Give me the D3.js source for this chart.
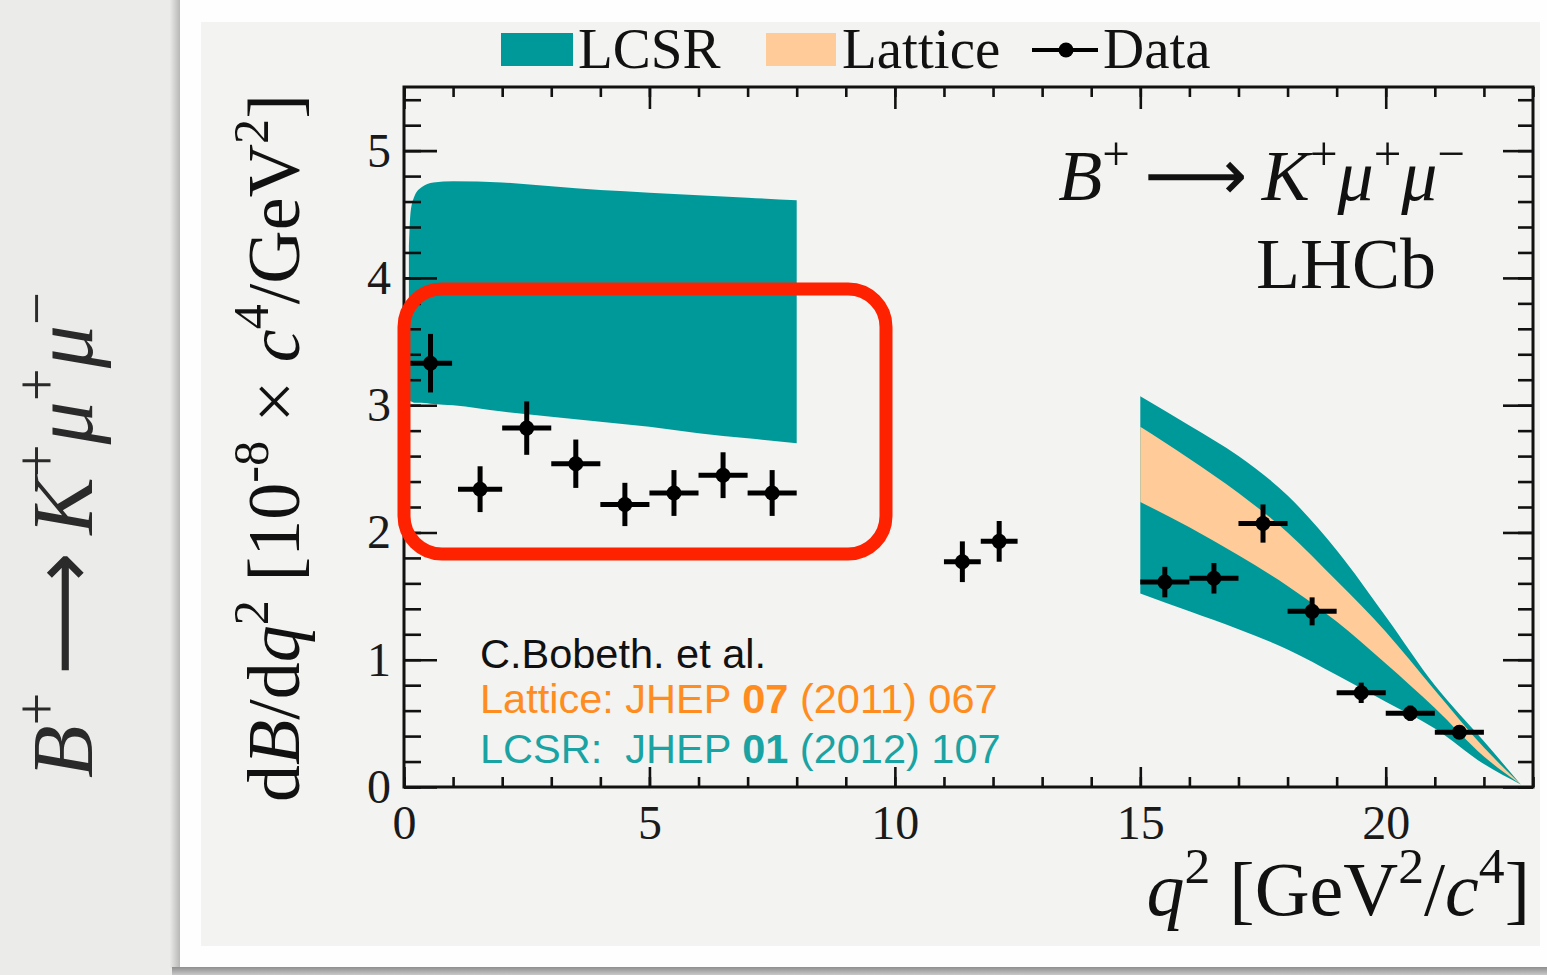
<!DOCTYPE html>
<html>
<head>
<meta charset="utf-8">
<script src="https://cdn.jsdelivr.net/npm/d3@7"></script>
<style>
  body { margin: 0; background: #e9e9e7; }
  svg { display: block; }
</style>
</head>
<body>
<svg width="1547" height="975"></svg>
<script>
// data points: q2 bins and dB/dq2 values (10^-8)
const binLo = [0.1, 1.1, 2, 3, 4, 5, 6, 7, 11, 11.75, 15, 16, 17, 18, 19, 20, 21];
const binHi = [0.98, 2, 3, 4, 5, 6, 7, 8, 11.75, 12.5, 16, 17, 18, 19, 20, 21, 22];
const dataVal = [3.33, 2.34, 2.82, 2.54, 2.22, 2.31, 2.45, 2.31, 1.77, 1.93, 1.61, 1.64, 2.07, 1.38, 0.74, 0.58, 0.43];
const dataErr = [0.23, 0.18, 0.21, 0.19, 0.17, 0.18, 0.18, 0.18, 0.16, 0.16, 0.12, 0.12, 0.15, 0.11, 0.08, 0.06, 0.05];

// LCSR band, low q2
const lowQ = [0.1, 0.13, 0.2, 0.35, 0.6, 1, 2, 3, 4, 5, 6, 7, 8];
const lowLcsrHi = [4.25, 4.5, 4.63, 4.71, 4.75, 4.76, 4.75, 4.72, 4.69, 4.67, 4.65, 4.63, 4.61];
const lowLcsrLo = [3.03, 3.03, 3.02, 3.02, 3.01, 3.0, 2.95, 2.91, 2.87, 2.83, 2.78, 2.74, 2.70];

// high q2 bands
const highQ = [15, 16, 17, 18, 19, 20, 21, 22, 22.75];
const highLcsrHi = [3.07, 2.84, 2.60, 2.29, 1.86, 1.34, 0.80, 0.36, 0.02];
const highLcsrLo = [1.52, 1.38, 1.24, 1.08, 0.88, 0.67, 0.46, 0.18, 0.02];
const highLatHi = [2.83, 2.58, 2.31, 2.00, 1.62, 1.22, 0.76, 0.31, 0.02];
const highLatLo = [2.24, 2.04, 1.82, 1.58, 1.30, 0.97, 0.62, 0.24, 0.02];

const xMajor = [0, 5, 10, 15, 20];
const yMajor = [0, 1, 2, 3, 4, 5];

const teal = "#009999", peach = "#ffcc99";
const serif = "'Liberation Serif', 'Times New Roman', serif";
const sans = "'Liberation Sans', Arial, sans-serif";

const svg = d3.select("svg");

// page / card background
const defs = svg.append("defs");
const sh = defs.append("linearGradient").attr("id", "shadowL");
sh.append("stop").attr("offset", "0").attr("stop-color", "#e9e9e7");
sh.append("stop").attr("offset", "1").attr("stop-color", "#b8b8b6");
const shB = defs.append("linearGradient").attr("id", "shadowB").attr("x1", 0).attr("x2", 0).attr("y1", 0).attr("y2", 1);
shB.append("stop").attr("offset", "0").attr("stop-color", "#8e8e8e");
shB.append("stop").attr("offset", "1").attr("stop-color", "#c8c8c8");

svg.append("rect").attr("x", 0).attr("y", 0).attr("width", 1547).attr("height", 975).attr("fill", "#ebebe9");
svg.append("rect").attr("x", 170).attr("y", 0).attr("width", 10).attr("height", 968).attr("fill", "url(#shadowL)");
svg.append("rect").attr("x", 172).attr("y", 967).attr("width", 1375).attr("height", 8).attr("fill", "url(#shadowB)");
svg.append("rect").attr("x", 180).attr("y", 0).attr("width", 1367).attr("height", 967).attr("fill", "#fefefe");
svg.append("rect").attr("x", 201).attr("y", 22).attr("width", 1339).attr("height", 924).attr("fill", "#f3f3f1");

// scales
const x = d3.scaleLinear().domain([0, 23]).range([404, 1533]);
const y = d3.scaleLinear().domain([0, 5.5]).range([787, 87]);

// bands
const areaOf = (q, lo, hi) => d3.area()
    .x((d, i) => x(q[i]))
    .y0((d, i) => y(lo[i]))
    .y1((d, i) => y(hi[i]))
    .curve(d3.curveMonotoneX)(q);

svg.append("path").attr("d", areaOf(lowQ, lowLcsrLo, lowLcsrHi)).attr("fill", teal);
svg.append("path").attr("d", areaOf(highQ, highLcsrLo, highLcsrHi)).attr("fill", teal);
svg.append("path").attr("d", areaOf(highQ, highLatLo, highLatHi)).attr("fill", peach);

// axes (ticks inward on all four sides)
const tickStyle = g => {
    g.select(".domain").remove();
    g.selectAll(".tick line").attr("stroke", "#111").attr("stroke-width", 2.6);
    g.selectAll("text").attr("font-family", serif).attr("font-size", 48).attr("fill", "#1a1a1a");
};
const allX = d3.range(0, 24, 1);
const allY = d3.range(0, 5.51, 0.2);

svg.append("g").attr("transform", "translate(0,787)")
    .call(d3.axisBottom(x).tickValues(allX).tickSize(-10).tickFormat(""))
    .call(tickStyle);
svg.append("g").attr("transform", "translate(0,787)")
    .call(d3.axisBottom(x).tickValues(xMajor).tickSize(-20).tickPadding(18).tickFormat(d3.format("d")))
    .call(tickStyle);
svg.append("g").attr("transform", "translate(0,87)")
    .call(d3.axisTop(x).tickValues(allX).tickSize(-10).tickFormat(""))
    .call(tickStyle);
svg.append("g").attr("transform", "translate(0,87)")
    .call(d3.axisTop(x).tickValues(xMajor).tickSize(-22).tickFormat(""))
    .call(tickStyle);
svg.append("g").attr("transform", "translate(404,0)")
    .call(d3.axisLeft(y).tickValues(allY).tickSize(-17).tickFormat(""))
    .call(tickStyle);
svg.append("g").attr("transform", "translate(404,0)")
    .call(d3.axisLeft(y).tickValues(yMajor).tickSize(-33).tickPadding(13).tickFormat(d3.format("d")))
    .call(tickStyle);
svg.append("g").attr("transform", "translate(1533,0)")
    .call(d3.axisRight(y).tickValues(allY).tickSize(-15).tickFormat(""))
    .call(tickStyle);
svg.append("g").attr("transform", "translate(1533,0)")
    .call(d3.axisRight(y).tickValues(yMajor).tickSize(-30).tickFormat(""))
    .call(tickStyle);

// frame
svg.append("rect").attr("x", x(0)).attr("y", y(5.5))
    .attr("width", x(23) - x(0)).attr("height", y(0) - y(5.5))
    .attr("fill", "none").attr("stroke", "#111").attr("stroke-width", 3);

// data points with error bars
const pts = dataVal.map((v, i) => ({lo: binLo[i], hi: binHi[i], v: v, e: dataErr[i]}));
const pg = svg.append("g").attr("stroke", "#000").attr("stroke-width", 5);
pg.selectAll(".xe").data(pts).join("line")
    .attr("x1", d => x(d.lo)).attr("x2", d => x(d.hi))
    .attr("y1", d => y(d.v)).attr("y2", d => y(d.v));
pg.selectAll(".ye").data(pts).join("line")
    .attr("x1", d => x((d.lo + d.hi) / 2)).attr("x2", d => x((d.lo + d.hi) / 2))
    .attr("y1", d => y(d.v - d.e)).attr("y2", d => y(d.v + d.e));
svg.append("g").selectAll("circle").data(pts).join("circle")
    .attr("cx", d => x((d.lo + d.hi) / 2)).attr("cy", d => y(d.v)).attr("r", 7.5).attr("fill", "#000");

// rich text helper: parts = [text, italic?, sup?, family?]
function rich(sel, parts, size) {
    let up = false;
    parts.forEach(p => {
        const t = sel.append("tspan").text(p[0]);
        if (p[1]) t.attr("font-style", "italic");
        if (p[3]) t.attr("font-family", p[3]);
        const isSup = !!p[2];
        if (isSup) t.attr("font-size", size * 0.68);
        if (isSup && !up) t.attr("dy", -size * 0.42);
        if (!isSup && up) t.attr("dy", size * 0.42);
        up = isSup;
    });
}

// legend
const legend = svg.append("g").attr("font-family", serif).attr("font-size", 57).attr("fill", "#111");
legend.append("rect").attr("x", 501).attr("y", 33).attr("width", 72).attr("height", 33).attr("fill", teal);
legend.append("text").attr("x", 578).attr("y", 68).text("LCSR");
legend.append("rect").attr("x", 766).attr("y", 33).attr("width", 70).attr("height", 33).attr("fill", peach);
legend.append("text").attr("x", 842).attr("y", 68).text("Lattice");
legend.append("line").attr("x1", 1032).attr("x2", 1098).attr("y1", 50).attr("y2", 50).attr("stroke", "#000").attr("stroke-width", 4);
legend.append("circle").attr("cx", 1066).attr("cy", 50).attr("r", 7.5).attr("fill", "#000");
legend.append("text").attr("x", 1103).attr("y", 68).text("Data");

// decay label + LHCb
const arrowFont = "'DejaVu Sans', sans-serif";
const decay = [["B", true], ["+", false, true], ["\u2009\u27f6", false, false, arrowFont], ["\u2009K", true], ["+", false, true],
    ["\u03bc", true], ["+", false, true], ["\u03bc", true], ["\u2212", false, true]];
rich(svg.append("text").attr("x", 1465).attr("y", 200).attr("text-anchor", "end")
    .attr("font-family", serif).attr("font-size", 72).attr("fill", "#111"), decay, 72);
svg.append("text").attr("x", 1436).attr("y", 288).attr("text-anchor", "end")
    .attr("font-family", serif).attr("font-size", 72).attr("fill", "#111").text("LHCb");

// reference notes
const notes = svg.append("g").attr("font-family", sans).attr("font-size", 41.5);
notes.append("text").attr("x", 480).attr("y", 668).attr("fill", "#111").text("C.Bobeth. et al.");
const n2 = notes.append("text").attr("x", 480).attr("y", 713).attr("fill", "#ff8c1e");
n2.append("tspan").text("Lattice: JHEP ");
n2.append("tspan").attr("font-weight", "bold").text("07");
n2.append("tspan").text(" (2011) 067");
const n3 = notes.append("text").attr("x", 480).attr("y", 763).attr("fill", "#19a3a3");
n3.append("tspan").text("LCSR:\u00a0 JHEP ");
n3.append("tspan").attr("font-weight", "bold").text("01");
n3.append("tspan").text(" (2012) 107");

// axis titles
rich(svg.append("text").attr("x", 1530).attr("y", 915).attr("text-anchor", "end")
    .attr("font-family", serif).attr("font-size", 76).attr("fill", "#111"),
    [["q", true], ["2", false, true], [" [GeV", false], ["2", false, true], ["/", false], ["c", true], ["4", false, true], ["]", false]], 76);

rich(svg.append("text").attr("transform", "translate(299,448) rotate(-90)").attr("text-anchor", "middle")
    .attr("font-family", serif).attr("font-size", 74).attr("fill", "#111"),
    [["d", false], ["B", true], ["/d", false], ["q", true], ["2", false, true], [" [10", false], ["-8", false, true],
     [" \u00d7 ", false], ["c", true], ["4", false, true], ["/GeV", false], ["2", false, true], ["]", false]], 74);

rich(svg.append("text").attr("transform", "translate(92,535) rotate(-90)").attr("text-anchor", "middle")
    .attr("font-family", serif).attr("font-size", 86).attr("fill", "#2a2a2a"), decay, 86);

// highlight box
svg.append("rect").attr("x", 404).attr("y", 289).attr("width", 482).attr("height", 265)
    .attr("rx", 38).attr("fill", "none").attr("stroke", "#ff2200").attr("stroke-width", 13);
</script>
</body>
</html>
